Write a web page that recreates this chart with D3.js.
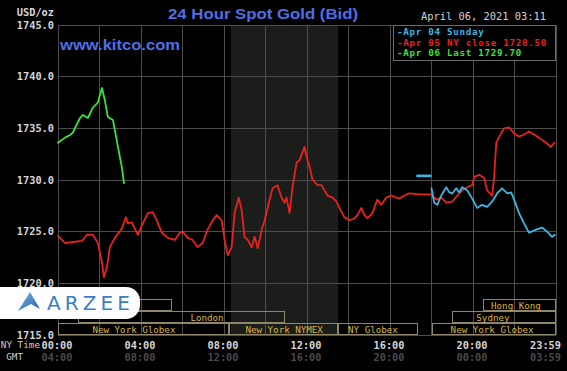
<!DOCTYPE html>
<html>
<head>
<meta charset="utf-8">
<script src="https://cdn.jsdelivr.net/npm/d3@7"></script>
<style>
  html, body { margin: 0; padding: 0; background: #000; }
  svg { display: block; }
</style>
</head>
<body>
<svg id="chart" width="567" height="371"></svg>
<script>
// ---------------- DATA ----------------
const yTicks = [1715, 1720, 1725, 1730, 1735, 1740, 1745];
const xTickHours = [0, 4, 8, 12, 16, 20, 23.983];
const nyTimeLabels = ["00:00", "04:00", "08:00", "12:00", "16:00", "20:00", "23:59"];
const gmtLabels = ["04:00", "08:00", "12:00", "16:00", "20:00", "00:00", "03:59"];

// Apr 05 NY close (red)
const redHours = [0.00,0.34,0.72,1.15,1.39,1.68,1.92,2.12,2.21,2.36,2.50,2.74,3.08,3.27,3.37,3.56,3.70,3.85,4.09,4.33,4.57,4.76,5.00,5.29,5.63,5.87,6.01,6.25,6.49,6.73,6.97,7.21,7.46,7.65,7.89,8.03,8.18,8.37,8.51,8.71,8.85,8.99,9.14,9.33,9.48,9.62,9.72,9.81,9.96,10.20,10.34,10.58,10.77,10.92,11.01,11.16,11.30,11.50,11.64,11.78,11.88,11.98,12.12,12.27,12.51,12.70,12.84,12.99,13.23,13.42,13.56,13.80,14.05,14.29,14.43,14.62,14.77,14.91,15.15,15.39,15.58,15.82,16.07,16.31,16.45,16.69,16.93,17.41,17.99,18.23,18.47,18.71,19.00,19.24,19.48,19.72,19.96,20.06,20.30,20.54,20.68,20.92,21.02,21.12,21.26,21.50,21.74,21.98,22.22,22.46,22.70,22.94,23.18,23.52,23.76,23.91];
const redValues = [1724.6,1723.9,1724.0,1724.1,1724.7,1724.7,1723.9,1722.0,1720.6,1721.6,1723.5,1724.4,1725.3,1726.4,1725.8,1725.9,1725.3,1724.7,1725.8,1726.8,1726.9,1726.1,1724.9,1724.4,1724.2,1724.9,1725.0,1724.4,1724.2,1723.5,1723.9,1725.2,1726.1,1726.6,1726.1,1724.2,1722.7,1723.5,1726.8,1728.3,1727.1,1724.5,1724.2,1723.5,1724.5,1723.4,1724.2,1725.2,1726.1,1728.1,1729.2,1729.5,1728.3,1727.8,1728.3,1726.8,1729.3,1731.7,1731.9,1732.7,1733.2,1732.2,1731.3,1730.0,1729.5,1729.5,1729.0,1728.5,1728.3,1727.9,1727.3,1726.4,1726.1,1726.3,1726.6,1727.3,1726.6,1726.3,1726.8,1728.1,1727.6,1728.3,1728.5,1728.3,1728.2,1728.5,1728.7,1728.6,1728.6,1728.1,1728.3,1727.8,1727.9,1728.5,1729.0,1729.3,1729.5,1730.3,1730.5,1730.2,1729.0,1728.5,1730.3,1733.6,1734.2,1735.0,1735.1,1734.5,1734.2,1734.4,1734.7,1734.4,1734.1,1733.6,1733.2,1733.6];

// Apr 06 Last (green)
const greenHours = [0.00,0.34,0.58,0.72,1.06,1.20,1.44,1.68,1.92,2.12,2.26,2.40,2.65,2.89,3.08,3.18];
const greenValues = [1733.6,1734.1,1734.35,1734.6,1736.0,1736.3,1736.0,1737.0,1737.5,1738.9,1737.7,1736.1,1735.8,1733.2,1731.2,1729.7];

// Apr 04 Sunday (cyan)
const cyanOpenHours = [17.27, 18.0];
const cyanOpenValues = [1730.4, 1730.4];
const cyanHours = [18.00,18.13,18.28,18.47,18.71,18.86,19.00,19.19,19.34,19.48,19.72,19.96,20.20,20.44,20.68,20.92,21.16,21.40,21.65,21.84,21.98,22.22,22.46,22.70,23.04,23.33,23.57,23.81,23.95];
const cyanValues = [1729.2,1727.8,1727.6,1728.5,1729.3,1728.8,1728.7,1729.2,1728.8,1729.3,1729.0,1728.2,1727.3,1727.6,1727.4,1727.9,1728.7,1729.2,1728.7,1728.8,1728.1,1726.8,1725.8,1724.9,1725.2,1725.4,1725.0,1724.5,1724.7];

const legendLabels = ["-Apr 04 Sunday", "-Apr 05 NY close 1728.50", "-Apr 06 Last 1729.70"];

// trading sessions
const sessionNames  = ["", "London", "New York Globex", "New York NYMEX", "NY Globex", "New York Globex", "Sydney", "Hong Kong"];
const sessionStart  = [0.0, 0.96, 0.0, 8.25, 13.5, 18.0, 19.0, 20.5];
const sessionEnd    = [5.49, 10.94, 8.25, 13.5, 17.35, 24.0, 24.0, 24.0];
const sessionRow    = [0, 1, 2, 2, 2, 2, 1, 0];
const sessionLabelH = [2.7, 7.18, 3.66, 10.9, 15.18, 20.92, 20.96, 22.07];
const nymexStart = 8.33, nymexEnd = 13.5;

// ---------------- DRAW ----------------
const svg = d3.select("#chart");
const W = 567, H = 371;
svg.append("rect").attr("width", W).attr("height", H).attr("fill", "#000");

const x = d3.scaleLinear().domain([0, 24]).range([58, 556]);
const y = d3.scaleLinear().domain([1715, 1745]).range([335, 25]);

const mono = "'DejaVu Sans Mono', 'Liberation Mono', monospace";
const gridColor = "#4d4d4d";

// NYMEX shaded band
svg.append("rect")
  .attr("x", x(nymexStart)).attr("y", y(1745))
  .attr("width", x(nymexEnd) - x(nymexStart)).attr("height", y(1715) - y(1745))
  .attr("fill", "#1b1d1b");

// gridlines
const vHours = d3.range(0, 25, 2);
svg.append("g").selectAll("line").data(vHours).join("line")
  .attr("x1", d => x(d)).attr("x2", d => x(d))
  .attr("y1", y(1745)).attr("y2", y(1715))
  .attr("stroke", gridColor).attr("stroke-width", 1).attr("shape-rendering", "crispEdges");
svg.append("g").selectAll("line").data(yTicks).join("line")
  .attr("x1", x(0)).attr("x2", x(24))
  .attr("y1", d => y(d)).attr("y2", d => y(d))
  .attr("stroke", gridColor).attr("stroke-width", 1).attr("shape-rendering", "crispEdges");

// Y axis labels
svg.append("g").selectAll("text").data(yTicks).join("text")
  .attr("x", 54).attr("y", d => y(d)).attr("dy", "0.35em")
  .attr("text-anchor", "end")
  .attr("font-family", mono).attr("font-size", 10.3).attr("font-weight", "bold")
  .attr("fill", "#d6d6d6")
  .text(d => d3.format(".1f")(d));
svg.append("text").attr("x", 54).attr("y", 12).attr("dy", "0.35em")
  .attr("text-anchor", "end")
  .attr("font-family", mono).attr("font-size", 10.3).attr("font-weight", "bold")
  .attr("fill", "#d6d6d6").text("USD/oz");

// X axis labels (last one right-aligned so it stays inside)
const lastIdx = xTickHours.length - 1;
function xLabelX(d, i) { return i === lastIdx ? 561 : x(d) - 1; }
function xLabelAnchor(d, i) { return i === lastIdx ? "end" : "middle"; }
svg.append("g").selectAll("text").data(xTickHours).join("text")
  .attr("x", xLabelX).attr("y", 345).attr("dy", "0.35em")
  .attr("text-anchor", xLabelAnchor)
  .attr("font-family", mono).attr("font-size", 10.3).attr("font-weight", "bold")
  .attr("fill", "#d6d6d6")
  .text((d, i) => nyTimeLabels[i]);
svg.append("g").selectAll("text").data(xTickHours).join("text")
  .attr("x", xLabelX).attr("y", 357).attr("dy", "0.35em")
  .attr("text-anchor", xLabelAnchor)
  .attr("font-family", mono).attr("font-size", 10.3).attr("font-weight", "bold")
  .attr("fill", "#4a4a4a")
  .text((d, i) => gmtLabels[i]);
svg.append("text").attr("x", 40).attr("y", 345).attr("dy", "0.35em")
  .attr("text-anchor", "end").attr("font-family", mono).attr("font-size", 9.3)
  .attr("fill", "#cfcfcf").text("NY Time");
svg.append("text").attr("x", 23).attr("y", 357).attr("dy", "0.35em")
  .attr("text-anchor", "end").attr("font-family", mono).attr("font-size", 9.3)
  .attr("fill", "#cfcfcf").text("GMT");

// session boxes
const rowTop = [299.5, 311.5, 323.5];
const rowH = 11;
const sessions = sessionNames.map((n, i) => ({
  name: n, s: sessionStart[i], e: sessionEnd[i], row: sessionRow[i], lh: sessionLabelH[i]
}));
const sg = svg.append("g");
sg.selectAll("rect").data(sessions).join("rect")
  .attr("x", d => x(d.s) + 0.5).attr("y", d => rowTop[d.row])
  .attr("width", d => x(d.e) - x(d.s) - 1).attr("height", rowH)
  .attr("fill", "none").attr("stroke", "#8e876c").attr("stroke-width", 1)
  .attr("shape-rendering", "crispEdges");
sg.selectAll("text").data(sessions).join("text")
  .attr("x", d => x(d.lh)).attr("y", d => rowTop[d.row] + rowH / 2 + 0.5).attr("dy", "0.35em")
  .attr("text-anchor", "middle")
  .attr("font-family", mono).attr("font-size", 9.2)
  .attr("fill", "#d9b443")
  .text(d => d.name);

// series lines
const line = d3.line().x(d => x(d[0])).y(d => y(d[1]));
function drawSeries(hours, values, color, width) {
  svg.append("path")
    .datum(hours.map((h, i) => [h, values[i]]))
    .attr("d", line)
    .attr("fill", "none").attr("stroke", color)
    .attr("stroke-width", width).attr("stroke-linejoin", "round").attr("stroke-linecap", "round");
}
const red = "#e8221e", green = "#3ee03a", cyan = "#3cb6e2";
drawSeries(redHours, redValues, red, 1.8);
drawSeries(cyanHours, cyanValues, cyan, 1.8);
svg.append("path")
  .datum(cyanOpenHours.map((h, i) => [h, cyanOpenValues[i]]))
  .attr("d", line).attr("fill", "none").attr("stroke", cyan).attr("stroke-width", 2.6);
drawSeries(greenHours, greenValues, green, 1.8);

// legend box
svg.append("rect").attr("x", 393.5).attr("y", 25.5).attr("width", 162).attr("height", 35)
  .attr("fill", "#000").attr("stroke", "#6a6a6a").attr("stroke-width", 1)
  .attr("shape-rendering", "crispEdges");
const legendColors = [cyan, red, green];
svg.append("g").selectAll("text").data(legendLabels).join("text")
  .attr("x", 397).attr("y", (d, i) => 31.5 + i * 10.8).attr("dy", "0.35em")
  .attr("font-family", mono).attr("font-size", 9.2).attr("font-weight", "bold")
  .attr("letter-spacing", 0.72)
  .attr("fill", (d, i) => legendColors[i])
  .text(d => d);

// date
svg.append("text").attr("x", 546).attr("y", 16).attr("dy", "0.35em")
  .attr("text-anchor", "end").attr("font-family", mono).attr("font-size", 10.4)
  .attr("fill", "#d2d2d2").text("April 06, 2021 03:11");

// title
svg.append("text").attr("x", 168).attr("y", 19)
  .attr("font-family", "'Liberation Sans', Arial, sans-serif").attr("font-weight", "bold")
  .attr("font-size", 15.5).attr("fill", "#4f6fe6")
  .attr("textLength", 190).attr("lengthAdjust", "spacingAndGlyphs")
  .text("24 Hour Spot Gold (Bid)");
svg.append("text").attr("x", 60).attr("y", 50)
  .attr("font-family", "'Liberation Sans', Arial, sans-serif").attr("font-weight", "bold")
  .attr("font-size", 15.5).attr("fill", "#4f6fe6")
  .attr("textLength", 120).attr("lengthAdjust", "spacingAndGlyphs")
  .text("www.kitco.com");

// ARZEE logo badge
svg.append("rect").attr("x", -20).attr("y", 287).attr("width", 160).attr("height", 32)
  .attr("rx", 14).attr("fill", "#ffffff");
const defs = svg.append("defs");
const grad = defs.append("linearGradient").attr("id", "lg").attr("x1", "0").attr("x2", "1").attr("y1", "0").attr("y2", "1");
grad.append("stop").attr("offset", "0").attr("stop-color", "#7fb8e8");
grad.append("stop").attr("offset", "1").attr("stop-color", "#1f5fa8");
svg.append("path")
  .attr("d", "M30,292 L40,309 L31,304 L18,311 Z")
  .attr("fill", "url(#lg)");
svg.append("text").attr("x", 47).attr("y", 310)
  .attr("font-family", "'DejaVu Sans', sans-serif").attr("font-size", 20)
  .attr("fill", "#3a80c4")
  .attr("textLength", 83).attr("lengthAdjust", "spacing")
  .text("ARZEE");
</script>
</body>
</html>
